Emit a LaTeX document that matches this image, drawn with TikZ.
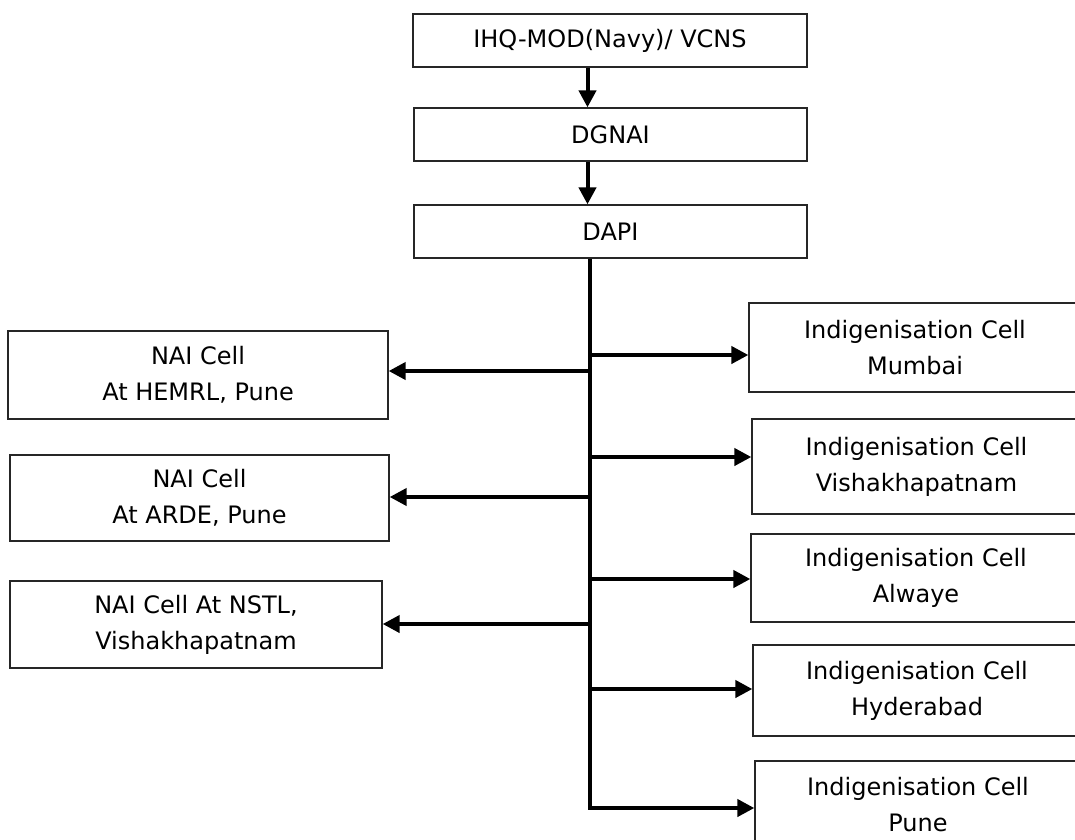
\documentclass[tikz,border=0pt]{standalone}
\usepackage{fontspec}
\setmainfont{DejaVu Sans}
\usetikzlibrary{arrows.meta}
\tikzset{
  box/.style={draw=black!85, line width=1.3pt, rectangle, align=center, inner sep=0pt,
    font=\fontsize{24}{36}\selectfont},
  conn/.style={line width=4pt, black},
  arr/.style={conn, -{Triangle[length=17pt,width=17pt]}}
}
\begin{document}
\begin{tikzpicture}[x=1pt,y=-1pt]
\useasboundingbox (0,0) rectangle (1075,839);
% top chain
\node[box, minimum width=394pt, minimum height=53pt] (ihq) at (610,40.5) {IHQ-MOD(Navy)/ VCNS};
\node[box, minimum width=393pt, minimum height=53pt] (dgnai) at (610.5,134.5) {DGNAI};
\node[box, minimum width=393pt, minimum height=53pt] (dapi) at (610.5,231.5) {DAPI};
% left boxes
\node[box, minimum width=380pt, minimum height=88pt] (nai1) at (198,375) {NAI Cell\\At HEMRL, Pune};
\node[box, minimum width=379pt, minimum height=86pt] (nai2) at (199.5,498) {NAI Cell\\At ARDE, Pune};
\node[box, minimum width=372pt, minimum height=87pt] (nai3) at (196,624.5) {NAI Cell At NSTL,\\Vishakhapatnam};
% right boxes
\node[box, minimum width=332pt, minimum height=89pt] (mum) at (915,347.5) {Indigenisation Cell\\Mumbai};
\node[box, minimum width=329pt, minimum height=95pt] (vis) at (916.5,466.5) {Indigenisation Cell\\Vishakhapatnam};
\node[box, minimum width=330pt, minimum height=88pt] (alw) at (916,578) {Indigenisation Cell\\Alwaye};
\node[box, minimum width=328pt, minimum height=91pt] (hyd) at (917,690.5) {Indigenisation Cell\\Hyderabad};
\node[box, minimum width=326pt, minimum height=88pt] (pun) at (918,805) {Indigenisation Cell\\Pune};
% coordinates
\coordinate (ax) at (587.5,0);
\coordinate (tr) at (590,0);
\coordinate (rs) at (592,0);
% top arrows
\draw[arr] (ihq.south -| ax) -- (dgnai.north -| ax);
\draw[arr] (dgnai.south -| ax) -- (dapi.north -| ax);
% trunk ending in the Pune arrow
\draw[arr, line join=miter] (dapi.south -| tr) -- (tr |- 0,808) -- (pun.west |- 0,808);
% left arrows
\draw[arr] (tr |- 0,371) -- (nai1.east |- 0,371);
\draw[arr] (tr |- 0,497) -- (nai2.east |- 0,497);
\draw[arr] (tr |- 0,624) -- (nai3.east |- 0,624);
% right arrows
\draw[arr] (rs |- 0,355) -- (mum.west |- 0,355);
\draw[arr] (rs |- 0,457) -- (vis.west |- 0,457);
\draw[arr] (rs |- 0,579) -- (alw.west |- 0,579);
\draw[arr] (rs |- 0,689) -- (hyd.west |- 0,689);
\end{tikzpicture}
\end{document}
